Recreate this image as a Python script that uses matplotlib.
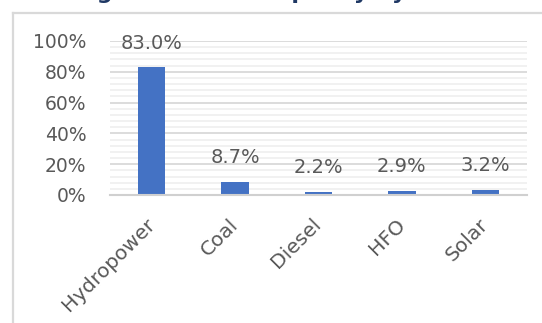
import matplotlib
matplotlib.use("Agg")
import matplotlib.pyplot as plt
from matplotlib.ticker import MultipleLocator, FuncFormatter
from matplotlib.lines import Line2D

# Installed capacity share by source (%)
sources = ["Hydropower", "Coal", "Diesel", "HFO", "Solar"]
shares = [83.0, 8.7, 2.2, 2.9, 3.2]
title_text = "Figure 1: Total capacity by source"

text_color = "#595959"
bar_color = "#4472C4"
font = "DejaVu Sans"

fig = plt.figure(figsize=(5.42, 3.23), dpi=100)
fig.patch.set_facecolor("white")

# Outer chart frame (top and left edges)
W, H = 542.0, 323.0
fig.add_artist(Line2D([13 / W, 13 / W], [0, 1 - 13 / H], transform=fig.transFigure,
                      color="#d9d9d9", lw=1.6))
fig.add_artist(Line2D([13 / W, 1], [1 - 13 / H, 1 - 13 / H], transform=fig.transFigure,
                      color="#d9d9d9", lw=1.6))

# Title sitting at the very top edge
fig.text(286 / W, 1 + 1.0 / H, title_text, ha="center", va="baseline",
         fontsize=16, fontweight="bold", color="#1f3864", family=font)

ax = fig.add_axes([110 / W, 1 - 195 / H, 417 / W, 154 / H])
x = list(range(len(sources)))
bars = ax.bar(x, shares, width=0.33, color=bar_color, zorder=3)

ax.set_xlim(-0.5, len(sources) - 0.5)
ax.set_ylim(0, 100)
ax.yaxis.set_major_locator(MultipleLocator(20))
ax.yaxis.set_minor_locator(MultipleLocator(4))
ax.yaxis.set_major_formatter(FuncFormatter(lambda v, p: f"{v:.0f}%"))
ax.grid(which="major", axis="y", color="#d9d9d9", lw=1.3, zorder=0)
ax.grid(which="minor", axis="y", color="#f0f0f0", lw=1.3, zorder=0)

for s in ["top", "right", "left"]:
    ax.spines[s].set_visible(False)
ax.spines["bottom"].set_color("#d0d0d0")
ax.spines["bottom"].set_linewidth(1.5)
ax.spines["bottom"].set_zorder(4)

ax.tick_params(axis="both", which="both", length=0)
ax.tick_params(axis="y", pad=17, labelsize=13.5, labelcolor=text_color)
ax.tick_params(axis="x", pad=19, labelsize=14.5, labelcolor=text_color)
ax.set_xticks(x)
ax.set_xticklabels(sources, rotation=45, ha="right", va="center",
                   rotation_mode="anchor", family=font)
for lab in ax.get_yticklabels():
    lab.set_family(font)

for xi, v in zip(x, shares):
    ax.annotate(f"{v:.1f}%", (xi, v), xytext=(0, 10.5), textcoords="offset points",
                ha="center", va="bottom", fontsize=14, color=text_color, family=font)

fig.savefig("out.png", dpi=100, facecolor="white")
